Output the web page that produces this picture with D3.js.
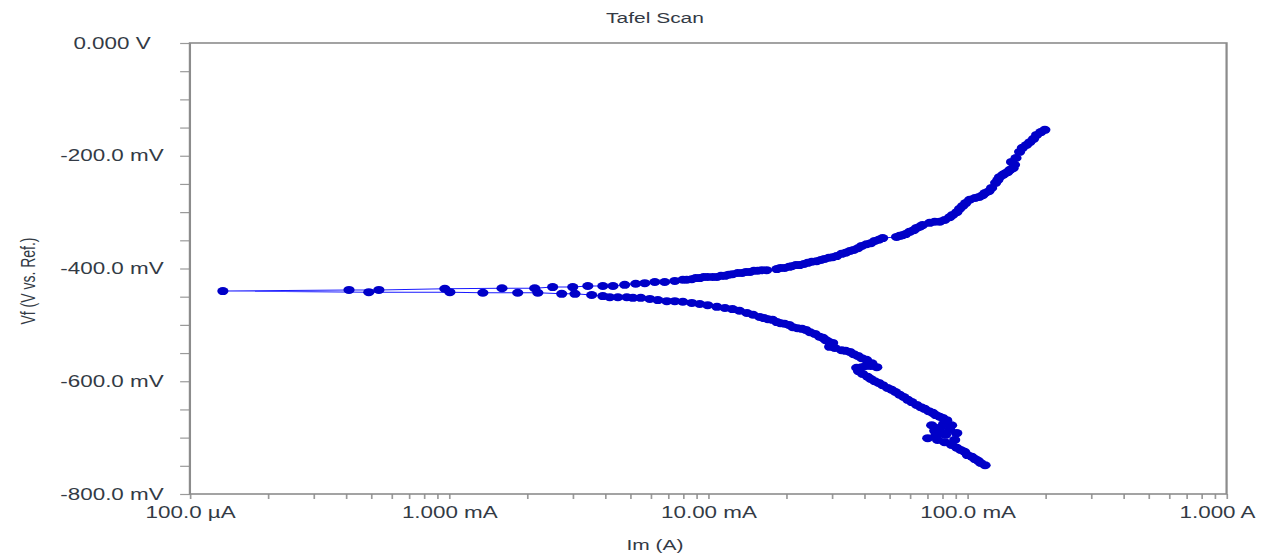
<!DOCTYPE html>
<meta charset="utf-8">
<style>
body { margin: 0; background: #fff; }
svg { display: block; }
text { font-family: 'Liberation Sans', Arial, sans-serif; fill: #333a45; }
.axis path { display: none; }
.axis line { stroke: #9a9a9a; stroke-width: 1.2; }
.frame { fill: none; stroke: #8c8c8c; stroke-width: 1.6; }
.scan { fill: none; stroke: #1a1aff; stroke-width: 1; }
.pt { fill: #0000c8; }
</style>
<body>
<script src="https://cdn.jsdelivr.net/npm/d3@7"></script>
<script>
// cathodic branch, in scan order (high current -> corrosion potential)
var cathodicMA = [
  117, 112.5, 110, 107, 104, 100, 97.5, 94.2, 91.0, 86.9,
  81.7, 76.7, 70.3, 75.5, 82.4, 79.6, 74.8, 91.0, 89.3, 85.5,
  78.2, 72.8, 80.9, 86.9, 83.2, 80.3, 78.2, 75.5, 73.5, 70.9,
  68.4, 66.1, 63.7, 61.0, 58.9, 56.8, 54.8, 52.8, 51.0, 49.2,
  47.1, 45.5, 43.9, 42.4, 41.2, 39.4, 38.0, 37.4, 39.1, 40.6,
  42.4, 44.7, 42.8, 40.8, 39.1, 37.8, 36.4, 35.2, 33.9, 32.7,
  30.8, 29.4, 30.2, 29.2, 28.4, 27.7, 26.9, 25.8, 24.7, 23.8,
  23.0, 22.1, 21.2, 20.5, 19.7, 19.0, 18.4, 17.7, 17.0, 16.4,
  15.8, 14.9, 14.1, 13.2, 12.4, 11.6, 10.8, 9.95, 9.27, 8.64,
  7.98, 7.43, 6.92, 6.39, 5.95, 5.49, 5.12, 4.85, 4.48, 4.17,
  3.92, 3.55, 3.06, 2.72, 2.20, 1.84, 1.35, 1.007, 0.490, 0.134
];
var cathodicMV = [
  -749, -745, -741, -738, -734, -731, -725, -722, -718, -713,
  -708, -704, -701, -697, -695, -692, -688, -692, -704, -686,
  -683, -678, -676, -678, -669, -665, -663, -660, -656, -653,
  -649, -646, -642, -637, -633, -628, -624, -619, -615, -612,
  -607, -603, -600, -596, -592, -587, -582, -576, -575, -573,
  -573, -575, -568, -562, -559, -555, -552, -548, -546, -545,
  -541, -539, -532, -530, -527, -523, -521, -516, -513, -509,
  -507, -506, -504, -500, -498, -497, -495, -491, -490, -488,
  -486, -482, -479, -475, -472, -470, -468, -465, -463, -461,
  -459, -458, -458, -456, -454, -452, -452, -451, -451, -451,
  -449, -447, -445, -445, -443, -443, -443, -442, -442, -440
];
// anodic branch, in scan order
var anodicMA = [
  0.411, 0.536, 0.963, 1.60, 2.14, 2.51, 3.00, 3.43, 3.92, 4.29,
  4.76, 5.25, 5.69, 6.22, 6.79, 7.43, 7.98, 8.26, 8.64, 8.95,
  9.27, 9.61, 9.95, 10.4, 10.8, 11.2, 11.6, 12.0, 12.4, 13.0,
  13.5, 14.0, 14.5, 15.0, 15.5, 16.1, 16.8, 18.4, 19.0, 19.7,
  20.5, 21.0, 21.8, 22.5, 23.4, 24.2, 25.1, 26.2, 27.2, 28.1,
  29.2, 30.2, 31.3, 32.7, 33.9, 35.2, 36.4, 37.8, 39.1, 40.8,
  42.4, 43.9, 45.5, 47.1, 53.3, 54.8, 56.2, 57.8, 59.8, 62.1,
  63.7, 65.5, 67.1, 71.5, 74.8, 78.2, 81.7, 85.5, 87.7, 91.0,
  93.3, 95.9, 98.5, 102, 107, 111, 114.5, 117, 121, 124,
  128.5, 131, 133, 137, 139, 143, 146, 150, 152, 148,
  154, 159, 163, 169, 174, 180, 185, 192, 199
];
var anodicMV = [
  -438, -438, -436, -435, -435, -433, -433, -431, -431, -431,
  -429, -427, -426, -424, -424, -422, -420, -420, -419, -417,
  -417, -415, -415, -415, -415, -413, -413, -411, -410, -408,
  -408, -406, -406, -404, -404, -403, -403, -401, -399, -399,
  -397, -396, -394, -394, -392, -390, -388, -387, -385, -383,
  -381, -380, -378, -374, -372, -369, -367, -364, -360, -357,
  -355, -351, -349, -346, -344, -342, -341, -339, -335, -332,
  -328, -326, -323, -319, -317, -317, -314, -309, -305, -300,
  -294, -289, -284, -278, -275, -273, -270, -266, -263, -257,
  -248, -243, -238, -234, -232, -229, -225, -222, -216, -211,
  -204, -193, -186, -181, -176, -170, -163, -158, -154
];

var xTickValues = [0.1, 1, 10, 100, 1000];
var xTickLabels = ["100.0 \u00b5A", "1.000 mA", "10.00 mA", "100.0 mA", "1.000 A"];
var yTickValues = [0, -200, -400, -600, -800];
var yTickLabels = ["0.000 V", "-200.0 mV", "-400.0 mV", "-600.0 mV", "-800.0 mV"];

// the original picture is stretched sideways, so draw in a narrower box and let it stretch
var W = 906, H = 556;
var margin = {top: 43, right: 29.6, bottom: 62, left: 135.7};
var width = W - margin.left - margin.right,
    height = H - margin.top - margin.bottom;

var svg = d3.select("body").append("svg")
    .attr("width", 1268)
    .attr("height", 556)
    .attr("viewBox", "0 0 " + W + " " + H)
    .attr("preserveAspectRatio", "none");

var g = svg.append("g")
    .attr("transform", "translate(" + margin.left + "," + margin.top + ")");

var x = d3.scaleLog().domain([0.1, 1000]).range([0, width]);
var y = d3.scaleLinear().domain([-800, 0]).range([height, 0]);

// y axis: minor ticks every 50 mV, labels every 200 mV
var yAxis = d3.axisLeft(y)
    .tickValues(d3.range(0, -801, -50))
    .tickSize(7)
    .tickFormat(function(d) {
        var i = yTickValues.indexOf(d);
        return i < 0 ? "" : yTickLabels[i];
    });
var ya = g.append("g").attr("class", "axis").call(yAxis);
ya.selectAll("text")
    .attr("x", -55.7)
    .attr("text-anchor", "middle")
    .style("font-size", "16px");

var xAxis = d3.axisBottom(x)
    .tickValues(x.ticks())
    .tickSize(5)
    .tickFormat(function(d) {
        var i = xTickValues.indexOf(d);
        return i < 0 ? "" : xTickLabels[i];
    });
var xa = g.append("g").attr("class", "axis")
    .attr("transform", "translate(0," + height + ")")
    .call(xAxis);
xa.selectAll("text")
    .attr("y", 18)
    .attr("dy", "0.35em")
    .style("font-size", "16px")
    .attr("dx", function(d) { return d === 1000 ? -7 : 0; });

g.append("rect")
    .attr("class", "frame")
    .attr("width", width)
    .attr("height", height);

var mA = cathodicMA.concat(anodicMA),
    mV = cathodicMV.concat(anodicMV);
var pts = mA.map(function(c, i) { return [c, mV[i]]; });

var line = d3.line()
    .x(function(d) { return x(d[0]); })
    .y(function(d) { return y(d[1]); });

g.append("path")
    .attr("class", "scan")
    .attr("d", line(pts));

g.selectAll("circle.pt")
    .data(pts)
  .enter().append("circle")
    .attr("class", "pt")
    .attr("cx", function(d) { return x(d[0]); })
    .attr("cy", function(d) { return y(d[1]); })
    .attr("r", 4.0);

// titles
svg.append("text")
    .attr("x", 468).attr("y", 18).attr("dy", "0.35em")
    .attr("text-anchor", "middle")
    .style("font-size", "15px")
    .text("Tafel Scan");

svg.append("text")
    .attr("x", 468).attr("y", 545).attr("dy", "0.35em")
    .attr("text-anchor", "middle")
    .style("font-size", "15px")
    .text("Im (A)");

svg.append("text")
    .attr("transform", "translate(20,281) rotate(-90)")
    .attr("dy", "0.35em")
    .attr("text-anchor", "middle")
    .style("font-size", "14px")
    .text("Vf (V vs. Ref.)");
</script>
